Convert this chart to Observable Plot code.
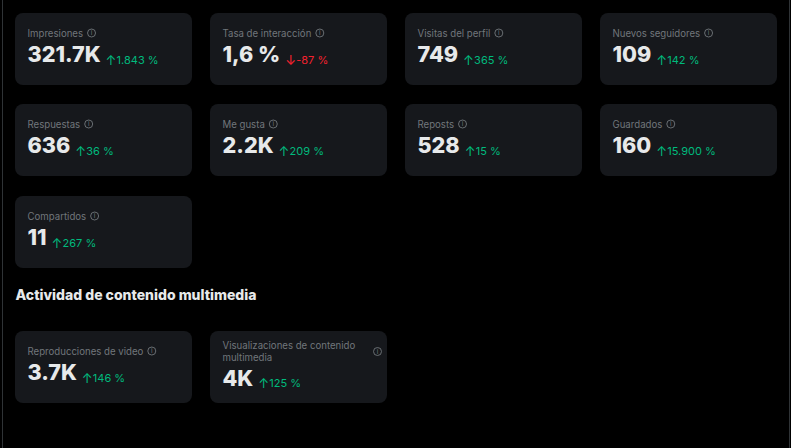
<!DOCTYPE html>
<html><head><meta charset="utf-8">
<script src="https://cdn.jsdelivr.net/npm/d3@7"></script>
<script src="https://cdn.jsdelivr.net/npm/@observablehq/plot@0.6"></script>
<style>
html,body{margin:0;padding:0;background:#000;overflow:hidden}
#c{position:relative;width:791px;height:448px}
#c:before,#c:after{content:"";position:absolute;top:0;bottom:0;width:1px;background:#2f3336}
#c:before{left:2px}#c:after{left:789px}
svg{display:block}
</style></head><body><div id="c"></div>
<script>
const labels = ["Impresiones","Tasa de interacción","Visitas del perfil","Nuevos seguidores","Respuestas","Me gusta","Reposts","Guardados","Compartidos","Reproducciones de video","Visualizaciones de contenido\nmultimedia"];
const values = ["321.7K","1,6 %","749","109","636","2.2K","528","160","11","3.7K","4K"];
const changes = ["1.843 %","-87 %","365 %","142 %","36 %","209 %","15 %","15.900 %","267 %","146 %","125 %"];
const directions = ["up","down","up","up","up","up","up","up","up","up","up"];
const heading = "Actividad de contenido multimedia";

const FONT = "Inter, 'Noto Sans', sans-serif";
const ctx = document.createElement("canvas").getContext("2d");
const measure = (t, size, weight) => { ctx.font = `${weight} ${size}px ${FONT}`; return ctx.measureText(t).width; };

const step = 195, cardH = 72, pad = 12, labelSize = 9.65, valueSize = 21.6;
const grid = [[0,0],[1,0],[2,0],[3,0],[0,1],[1,1],[2,1],[3,1],[0,2],[0,3],[1,3]];
const cards = labels.map((label, i) => {
  const [col, row] = grid[i];
  const multi = label.includes("\n");
  const vw = measure(values[i], valueSize, 800);
  const lw = measure(label.split("\n")[0], labelSize, 400);
  return {label, value: values[i], change: changes[i], dir: directions[i], col, row, multi,
    lx: col + pad/step,
    ix: col + (multi ? 167 : pad + lw + 8.5)/step,
    ax: col + (pad + vw + 5)/step,
    cx: col + (pad + vw + 16)/step};
});
const single = cards.filter(d => !d.multi), tall = cards.filter(d => d.multi);
const colorOf = d => d.dir === "up" ? "#00ba7c" : "#f4212e";
const arrowOf = d => d.dir === "up" ? "↑" : "↓";

const textMarks = (data, dyLabel, dyIcon, dyVal, dyChg) => [
  Plot.text(data, {x:"lx", y:"row", text:"label", dy:dyLabel, textAnchor:"start", fontSize:labelSize, fill:"#71767b", lineHeight:1.22, fontFamily:FONT}),
  Plot.dot(data, {x:"ix", y:"row", r:4, dy:dyIcon, stroke:"#71767b", strokeWidth:0.9, fill:"none"}),
  Plot.text(data, {x:"ix", y:"row", text:()=>"i", dy:dyIcon, fontSize:6.5, fill:"#71767b", fontFamily:FONT}),
  Plot.text(data, {x:"lx", y:"row", text:"value", dy:dyVal, textAnchor:"start", fontSize:valueSize, fontWeight:800, fill:"#e7e9ea", fontFamily:FONT}),
  Plot.text(data, {x:"ax", y:"row", text:arrowOf, dy:dyChg, textAnchor:"start", fontSize:13, fill:colorOf, fontFamily:FONT}),
  Plot.text(data, {x:"cx", y:"row", text:"change", dy:dyChg, textAnchor:"start", fontSize:11, fill:colorOf, fontFamily:FONT})
];

const chart = Plot.plot({
  width:791, height:448, margin:0,
  style:{background:"#000"},
  x:{type:"linear", domain:[0,4], range:[15,15+4*step], axis:null},
  y:{type:"linear", domain:[0,1,2,3], range:[13,104,196,331], axis:null},
  marks:[
    Plot.rect(cards, {x1:"col", x2:d=>d.col+1, y1:"row", y2:"row", insetRight:step-177, insetBottom:-cardH, rx:8, fill:"#16181c"}),
    Plot.text([heading], {x:0, y:3, dy:-36, textAnchor:"start", fontSize:14, fontWeight:800, fill:"#e7e9ea", fontFamily:FONT}),
    ...textMarks(single, 19.5, 19.5, 41.5, 47),
    ...textMarks(tall, 20, 20, 47.5, 52)
  ]
});
document.getElementById("c").append(chart);
</script></body></html>
